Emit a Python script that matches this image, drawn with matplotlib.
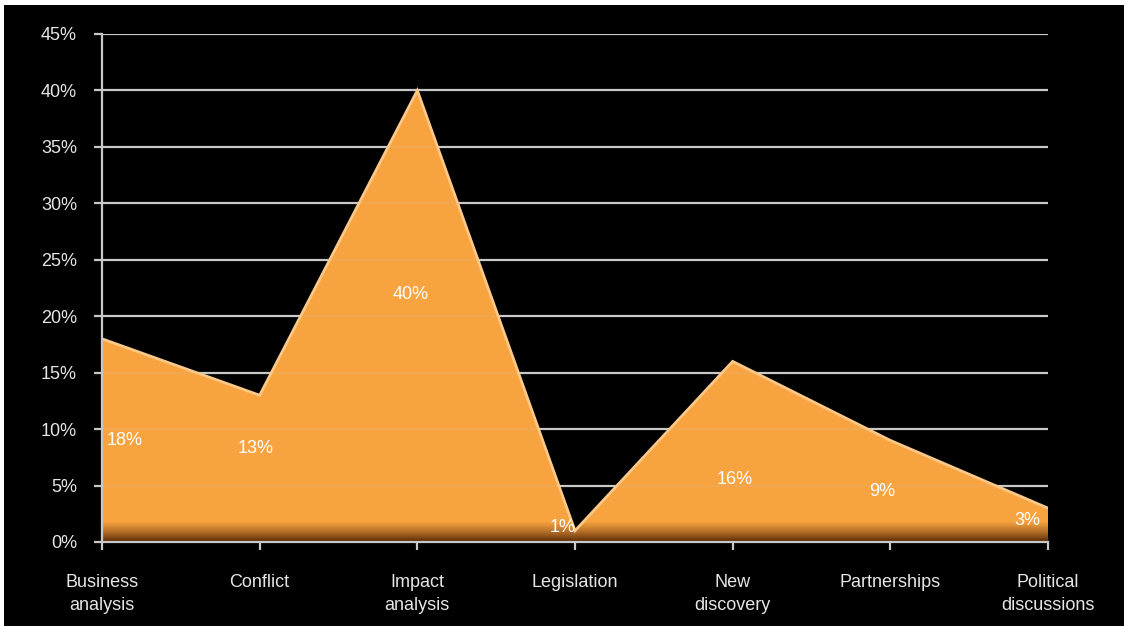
import numpy as np
import matplotlib
matplotlib.use("Agg")
import matplotlib.pyplot as plt
from matplotlib.patches import Rectangle, Polygon

categories = ["Business\nanalysis", "Conflict", "Impact\nanalysis", "Legislation",
              "New\ndiscovery", "Partnerships", "Political\ndiscussions"]
values = [18, 13, 40, 1, 16, 9, 3]
value_labels = ["18%", "13%", "40%", "1%", "16%", "9%", "3%"]
label_dx = [0.03, -0.025, -0.045, -0.08, 0.01, -0.05, -0.13]
label_y = [9.0, 8.3, 21.9, 1.25, 5.5, 4.5, 1.9]
label_ha = ["left", "center", "center", "center", "center", "center", "center"]
yticks = [0, 5, 10, 15, 20, 25, 30, 35, 40, 45]

plt.rcParams['font.family'] = ['Liberation Sans', 'DejaVu Sans']
W, H = 1128, 629
fig = plt.figure(figsize=(W/100, H/100), dpi=100, facecolor="white")
bg = Rectangle((4/W, 3/H), (1124-4)/W, (624-3)/H, transform=fig.transFigure,
               facecolor="black", edgecolor="none", zorder=-10)
fig.patches.append(bg)

ax = fig.add_axes([102/W, 1-542/H, (1048-102)/W, (542-34)/H])
ax.set_zorder(1)
ax.set_facecolor("none")
x = np.arange(len(values))
ax.set_xlim(0, len(values)-1)
ax.set_ylim(0, 45)

grid_c = "#c8c8c8"
for t in yticks[1:]:
    ax.axhline(t, color=grid_c, lw=1.6, zorder=1)
    ax.axhline(t, color=grid_c, lw=1.2, alpha=0.15, zorder=2.5)

# area with gradient
poly_pts = [(0, 0)] + list(zip(x, values)) + [(len(values)-1, 0)]
poly = Polygon(poly_pts, closed=True, facecolor="none", edgecolor="none")
ax.add_patch(poly)
ny = 900
yy = np.linspace(45, 0, ny)
orange = np.array([0.970, 0.640, 0.250])
dark = np.array([0.28, 0.10, 0.0])
t = np.clip(yy / 1.8, 0, 1) ** 0.7
rgb = dark[None, :] * (1 - t[:, None]) + orange[None, :] * t[:, None]
img = np.zeros((ny, 2, 4))
img[:, :, :3] = rgb[:, None, :]
img[:, :, 3] = 1.0
im = ax.imshow(img, extent=(0, len(values)-1, 0, 45), aspect="auto", zorder=2,
               interpolation="bilinear")
im.set_clip_path(poly)
# light highlight along top edge
ax.plot(x, values, color="#fbc888", lw=2.0, zorder=3, solid_joinstyle="miter")

for i, (lab, dx, ly, ha) in enumerate(zip(value_labels, label_dx, label_y, label_ha)):
    ax.text(i + dx, ly, lab, color="white", fontsize=13, ha=ha, va="center", zorder=5)

for s in ["top", "right"]:
    ax.spines[s].set_visible(False)
for s in ["left", "bottom"]:
    ax.spines[s].set_color(grid_c)
    ax.spines[s].set_linewidth(1.6)
    ax.spines[s].set_zorder(4)

ax.set_yticks(yticks)
ax.set_yticklabels([f"{v}%" for v in yticks])
ax.set_xticks(x)
ax.set_xticklabels(categories, linespacing=1.45)
ax.tick_params(axis="y", length=6, width=1.6, color=grid_c, labelcolor="#e6e6e6",
               labelsize=13, pad=12)
ax.tick_params(axis="x", length=6, width=1.6, color=grid_c, labelcolor="#e6e6e6",
               labelsize=13, pad=17)

fig.savefig("out.png", dpi=100, facecolor="white")
